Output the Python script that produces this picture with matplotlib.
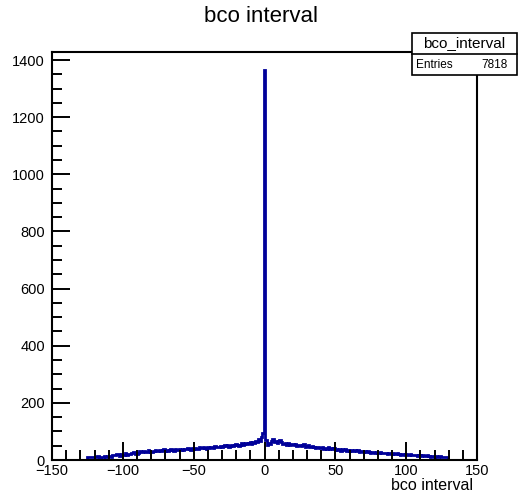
import numpy as np
import matplotlib
matplotlib.use("Agg")
import matplotlib.pyplot as plt
from matplotlib.ticker import MultipleLocator
from matplotlib.patches import Rectangle

plt.rcParams['font.family'] = ['Liberation Sans', 'DejaVu Sans']

# Histogram of bco interval, unit bins centred on integers
bin_start = -125.5
bin_width = 1
counts_neg = [
    10, 10, 12, 12, 9, 9, 11, 13, 13, 8, 12, 12, 14,      # -125 .. -113
    10, 13, 13, 15, 12, 16, 16, 18, 20, 20, 15, 22, 19,   # -112 .. -100
    19, 24, 17, 21, 21, 25, 23, 27, 22, 22, 26, 30, 28,   # -99 .. -87
    28, 32, 27, 27, 35, 31, 29, 29, 33, 36, 33, 30, 34,   # -86 .. -74
    31, 34, 37, 33, 36, 32, 35, 38, 35, 33, 37, 34, 36,   # -73 .. -61
    38, 35, 39, 36, 40, 37, 42, 38, 36, 41, 39, 43, 40,   # -60 .. -48
    38, 44, 41, 43, 46, 42, 40, 45, 43, 47, 44, 42, 48,   # -47 .. -35
    45, 47, 44, 50, 46, 49, 52, 48, 51, 47, 50, 53, 49,   # -34 .. -22
    52, 55, 51, 48, 54, 58, 53, 56, 60, 55, 58, 62, 57,   # -21 .. -9
    64, 60, 66, 62, 72, 68, 80, 95,                       # -8 .. -1
]
count_zero = 1365
counts_pos = [
    70, 52, 60, 56, 68, 72, 62, 66, 58, 65, 70, 62,       # 1 .. 12
    55, 57, 60, 54, 58, 52, 56, 55, 53, 57, 50, 54,       # 13 .. 24
    53, 48, 51, 55, 46, 49, 52, 47, 44, 48, 45, 42,       # 25 .. 36
    46, 44, 41, 43, 45, 38, 42, 40, 44, 37, 41, 39,       # 37 .. 48
    42, 35, 38, 36, 40, 33, 37, 34, 39, 31, 35, 32,       # 49 .. 60
    36, 33, 30, 34, 31, 35, 29, 32, 30, 28, 31, 27,       # 61 .. 72
    30, 28, 26, 29, 27, 25, 28, 26, 24, 27, 23, 25,       # 73 .. 84
    26, 24, 22, 25, 23, 21, 24, 22, 20, 23, 21, 19,       # 85 .. 96
    22, 20, 18, 21, 19, 17, 20, 18, 16, 19, 17, 15,       # 97 .. 108
    18, 16, 14, 17, 15, 13, 16, 14, 12, 15, 13, 12,       # 109 .. 120
    14, 12, 11, 13, 11, 10, 12, 10, 9,                    # 121 .. 129
]
hist_name = "bco_interval"
title = "bco interval"
entries = 7818

counts = counts_neg + [count_zero] + counts_pos
edges = bin_start + bin_width * np.arange(len(counts) + 1)

fig = plt.figure(figsize=(5.18, 4.93), dpi=100)
ax = fig.add_axes([52 / 518, 33 / 493, 425 / 518, 408 / 493])

ax.stairs(counts, edges, color='#000099', linewidth=2.0, baseline=0)

ax.set_xlim(-150, 150)
ax.set_ylim(0, 1428)
ax.xaxis.set_major_locator(MultipleLocator(50))
ax.xaxis.set_minor_locator(MultipleLocator(10))
ax.yaxis.set_major_locator(MultipleLocator(200))
ax.yaxis.set_minor_locator(MultipleLocator(50))
ax.tick_params(which='both', direction='in', width=1.4, labelsize=10.5,
               top=False, right=False)
ax.tick_params(which='major', length=13)
ax.tick_params(axis='x', which='major', pad=3)
ax.tick_params(axis='y', which='major', pad=5)
ax.tick_params(which='minor', length=7)
for s in ax.spines.values():
    s.set_linewidth(1.5)

fig.text(261 / 518, 1 - 17 / 493, title, ha='center', va='center', fontsize=16)
fig.text(473 / 518, 1 - 486 / 493, title, ha='right', va='center', fontsize=11.5)

# stats box
bx0, bx1 = 412, 517
by0, by1, by2 = 33, 54, 75
fig.patches.append(Rectangle((bx0 / 518, 1 - by2 / 493), (bx1 - bx0) / 518,
                             (by2 - by0) / 493, transform=fig.transFigure,
                             facecolor='white', edgecolor='black', linewidth=1.2,
                             zorder=5))
fig.lines.append(plt.Line2D([bx0 / 518, bx1 / 518], [1 - by1 / 493, 1 - by1 / 493],
                            transform=fig.transFigure, color='black',
                            linewidth=1.2, zorder=6))
fig.text((bx0 + bx1) / 2 / 518, 1 - (by0 + by1) / 2 / 493, hist_name,
         ha='center', va='center', fontsize=11, zorder=7)
fig.text(416 / 518, 1 - (by1 + by2) / 2 / 493, "Entries", ha='left',
         va='center', fontsize=8.5, zorder=7)
fig.text(508 / 518, 1 - (by1 + by2) / 2 / 493, str(entries), ha='right',
         va='center', fontsize=8.5, zorder=7)

fig.savefig("out.png", dpi=100)
